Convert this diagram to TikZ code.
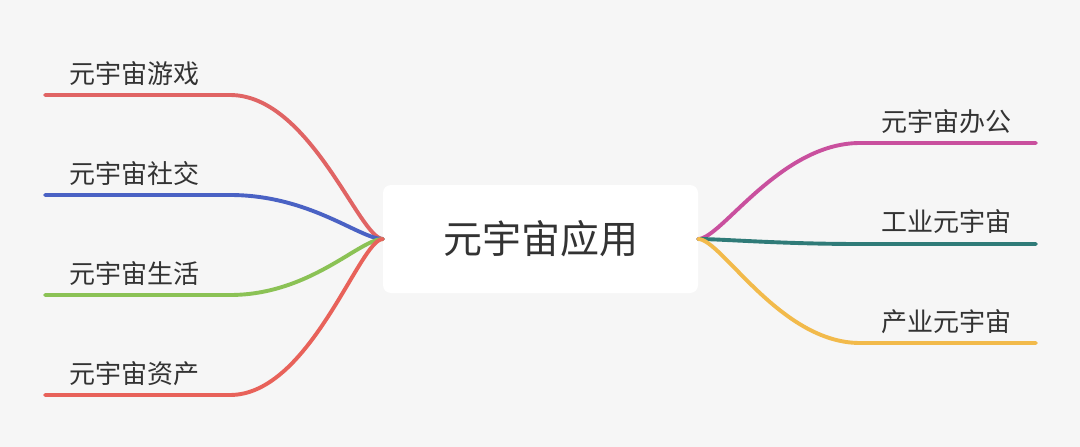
\documentclass[tikz,border=0pt]{standalone}
\usepackage{fontspec}
\newfontfamily\cjk{Noto Sans CJK SC}
\definecolor{bggray}{HTML}{F6F6F6}
\definecolor{txtgray}{HTML}{333333}
\definecolor{gamered}{HTML}{E06464}
\definecolor{socialblue}{HTML}{4A62C4}
\definecolor{lifegreen}{HTML}{8BC255}
\definecolor{assetred}{HTML}{E8625A}
\definecolor{officepink}{HTML}{C9509E}
\definecolor{industeal}{HTML}{2F7B78}
\definecolor{prodyellow}{HTML}{F2BA4B}

\begin{document}
\begin{tikzpicture}[x=1pt, y=-1pt,
	branch/.style={line width=3.9pt, line cap=round},
	leaf/.style={inner sep=0pt, text=txtgray, font=\cjk\fontsize{26}{31}\selectfont},
	]
	% Background and centre box:
	\fill[bggray] (0,0) rectangle (1080,447);
	\node[fill=white, rounded corners=8pt, minimum width=315, minimum height=108, inner sep=0pt, text=txtgray, font=\cjk\fontsize{39}{46}\selectfont](root) at (540.5,239){元宇宙应用};
	% Left branches:
	\coordinate (game) at (45,95);   \coordinate (gameB) at (230,95);
	\coordinate (social) at (45,195); \coordinate (socialB) at (230,195);
	\coordinate (life) at (45,295);   \coordinate (lifeB) at (230,295);
	\coordinate (asset) at (45,395);  \coordinate (assetB) at (230,395);
	\draw[branch, gamered] (game) -- (gameB) .. controls +(80,0) and +(-23,0) .. (root.west);
	\draw[branch, socialblue] (social) -- (socialB) .. controls +(80,0) and +(-23,0) .. (root.west);
	\draw[branch, lifegreen] (life) -- (lifeB) .. controls +(80,0) and +(-23,0) .. (root.west);
	\draw[branch, assetred] (asset) -- (assetB) .. controls +(80,0) and +(-23,0) .. (root.west);
	\node[leaf, anchor=base west](gameL) at (69,83){元宇宙游戏};
	\node[leaf, anchor=base west](socialL) at (69,183){元宇宙社交};
	\node[leaf, anchor=base west](lifeL) at (69,283){元宇宙生活};
	\node[leaf, anchor=base west](assetL) at (69,383){元宇宙资产};
	% Right branches:
	\coordinate (office) at (1036,143);  \coordinate (officeB) at (860,143);
	\coordinate (indus) at (1036,244);   \coordinate (indusB) at (860,244);
	\coordinate (prod) at (1036,343);    \coordinate (prodB) at (860,343);
	\draw[branch, officepink] (root.east) .. controls +(23,0) and +(-80,0) .. (officeB) -- (office);
	\draw[branch, industeal] (root.east) .. controls +(23,0) and +(-80,0) .. (indusB) -- (indus);
	\draw[branch, prodyellow] (root.east) .. controls +(23,0) and +(-80,0) .. (prodB) -- (prod);
	\node[leaf, anchor=base east](officeL) at (1012,131){元宇宙办公};
	\node[leaf, anchor=base east](indusL) at (1012,231){工业元宇宙};
	\node[leaf, anchor=base east](prodL) at (1012,331){产业元宇宙};
\end{tikzpicture}
\end{document}
